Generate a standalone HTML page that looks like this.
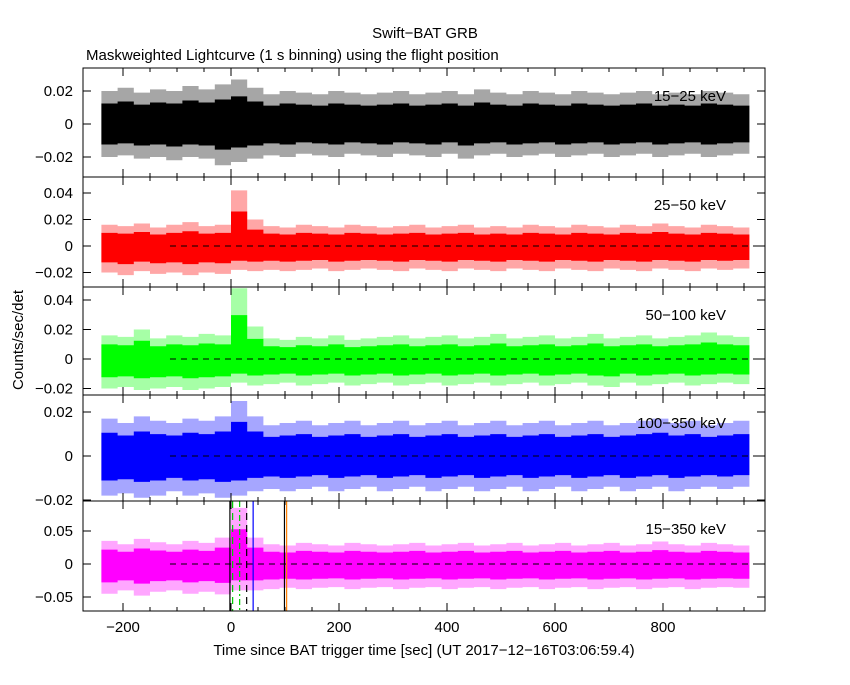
<!DOCTYPE html>
<html><head><meta charset="utf-8"><style>
body{margin:0;background:#fff;}
svg text{font-family:"Liberation Sans",sans-serif;font-size:15px;fill:#000;}
</style></head><body>
<svg id="c" width="850" height="680" xmlns="http://www.w3.org/2000/svg">
<text x="425" y="38" text-anchor="middle">Swift−BAT GRB</text>
<text x="86" y="60">Maskweighted Lightcurve (1 s binning) using the flight position</text>
<text x="424" y="655" text-anchor="middle">Time since BAT trigger time [sec] (UT 2017−12−16T03:06:59.4)</text>
<text transform="translate(23,340) rotate(-90)" text-anchor="middle">Counts/sec/det</text>
<g id="g"></g>
</svg>
<script>
const xTicks=[-200,0,200,400,600,800];
const binStart=-240, binWidth=30;
const hi1=[0.020,0.022,0.019,0.021,0.020,0.023,0.021,0.024,0.027,0.022,0.018,0.020,0.019,0.018,0.020,0.019,0.018,0.019,0.020,0.018,0.019,0.020,0.018,0.021,0.019,0.018,0.020,0.019,0.018,0.020,0.019,0.018,0.019,0.020,0.018,0.019,0.018,0.020,0.019,0.018];
const lo1=[-0.020,-0.019,-0.021,-0.020,-0.022,-0.020,-0.021,-0.025,-0.023,-0.021,-0.019,-0.020,-0.018,-0.019,-0.020,-0.018,-0.019,-0.020,-0.018,-0.019,-0.020,-0.018,-0.021,-0.019,-0.018,-0.020,-0.019,-0.018,-0.020,-0.019,-0.018,-0.020,-0.019,-0.018,-0.020,-0.019,-0.018,-0.020,-0.019,-0.018];
const hi2=[0.016,0.015,0.017,0.014,0.016,0.018,0.015,0.016,0.042,0.020,0.015,0.014,0.016,0.015,0.014,0.016,0.015,0.014,0.015,0.016,0.014,0.015,0.016,0.014,0.015,0.014,0.016,0.015,0.014,0.016,0.015,0.014,0.016,0.015,0.017,0.015,0.014,0.016,0.015,0.014];
const lo2=[-0.020,-0.022,-0.019,-0.021,-0.020,-0.022,-0.020,-0.021,-0.018,-0.019,-0.018,-0.019,-0.018,-0.017,-0.019,-0.018,-0.017,-0.018,-0.019,-0.017,-0.018,-0.019,-0.017,-0.018,-0.019,-0.017,-0.018,-0.019,-0.017,-0.018,-0.019,-0.017,-0.018,-0.019,-0.017,-0.018,-0.019,-0.017,-0.018,-0.017];
const hi3=[0.016,0.015,0.020,0.014,0.016,0.015,0.017,0.016,0.048,0.022,0.014,0.013,0.015,0.014,0.016,0.013,0.014,0.015,0.016,0.014,0.015,0.016,0.014,0.015,0.017,0.014,0.015,0.016,0.014,0.015,0.017,0.014,0.015,0.016,0.014,0.015,0.016,0.018,0.016,0.015];
const lo3=[-0.020,-0.019,-0.021,-0.020,-0.019,-0.021,-0.020,-0.019,-0.016,-0.018,-0.017,-0.016,-0.018,-0.017,-0.016,-0.018,-0.017,-0.016,-0.018,-0.017,-0.016,-0.018,-0.017,-0.016,-0.018,-0.017,-0.016,-0.018,-0.017,-0.016,-0.018,-0.019,-0.016,-0.018,-0.017,-0.016,-0.018,-0.017,-0.016,-0.017];
const hi4=[0.017,0.015,0.018,0.016,0.015,0.017,0.016,0.018,0.025,0.018,0.014,0.015,0.016,0.014,0.015,0.016,0.014,0.015,0.016,0.014,0.015,0.016,0.014,0.015,0.016,0.014,0.015,0.016,0.014,0.015,0.016,0.014,0.015,0.016,0.017,0.015,0.016,0.014,0.015,0.016];
const lo4=[-0.018,-0.017,-0.019,-0.018,-0.016,-0.018,-0.017,-0.019,-0.018,-0.016,-0.015,-0.016,-0.015,-0.014,-0.016,-0.015,-0.014,-0.016,-0.015,-0.014,-0.016,-0.015,-0.014,-0.016,-0.015,-0.014,-0.016,-0.015,-0.014,-0.016,-0.015,-0.014,-0.016,-0.015,-0.014,-0.016,-0.015,-0.014,-0.015,-0.014];
const hi5=[0.035,0.030,0.038,0.033,0.030,0.035,0.032,0.040,0.085,0.040,0.030,0.028,0.032,0.030,0.028,0.032,0.030,0.028,0.030,0.032,0.028,0.030,0.032,0.028,0.030,0.032,0.028,0.030,0.032,0.028,0.030,0.032,0.028,0.030,0.034,0.030,0.028,0.032,0.030,0.028];
const lo5=[-0.045,-0.040,-0.048,-0.042,-0.040,-0.045,-0.042,-0.046,-0.040,-0.040,-0.038,-0.036,-0.038,-0.036,-0.035,-0.038,-0.036,-0.035,-0.038,-0.036,-0.035,-0.038,-0.036,-0.035,-0.038,-0.036,-0.035,-0.038,-0.036,-0.035,-0.038,-0.036,-0.035,-0.038,-0.036,-0.035,-0.038,-0.036,-0.035,-0.036];
const yTicks1=[-0.02,0,0.02], yTicks2=[-0.02,0,0.02,0.04], yTicks3=[-0.02,0,0.02,0.04], yTicks4=[-0.02,0,0.02], yTicks5=[-0.05,0,0.05];
const bandLabels=["15−25 keV","25−50 keV","50−100 keV","100−350 keV","15−350 keV"];
const markerTimes=[-2,3,16,29,41,99,103];
const markerStyles=["solid-black","dash-green","dashdot-green","dash-black","solid-blue","solid-black","solid-orange"];

const X0=83,X1=765;
const xs=t=>231+(t)*0.54;
const panels=[
 {top:68,bot:177,y0:124,k:1650,hi:hi1,lo:lo1,ticks:yTicks1,col:"#000",zero:false},
 {top:177,bot:287,y0:246,k:1325,hi:hi2,lo:lo2,ticks:yTicks2,col:"#ff0000",zero:true},
 {top:287,bot:395,y0:359,k:1475,hi:hi3,lo:lo3,ticks:yTicks3,col:"#00ff00",zero:true},
 {top:395,bot:501,y0:456,k:2200,hi:hi4,lo:lo4,ticks:yTicks4,col:"#0000ff",zero:true},
 {top:501,bot:611,y0:564,k:660,hi:hi5,lo:lo5,ticks:yTicks5,col:"#ff00ff",zero:true}];
const NS="http://www.w3.org/2000/svg";
const g=document.getElementById('g');
function mk(tag,attrs){const e=document.createElementNS(NS,tag);for(const a in attrs)e.setAttribute(a,attrs[a]);g.appendChild(e);return e;}
function bandPts(p,ys,f){
 let pts=[];
 p.hi.forEach((v,i)=>{const t0=binStart+i*binWidth;pts.push(xs(t0)+','+ys(v*f));pts.push(xs(t0+binWidth)+','+ys(v*f));});
 for(let i=p.lo.length-1;i>=0;i--){const t0=binStart+i*binWidth;pts.push(xs(t0+binWidth)+','+ys(p.lo[i]*f));pts.push(xs(t0)+','+ys(p.lo[i]*f));}
 return pts.join(' ');
}
panels.forEach((p,pi)=>{
 const ys=v=>p.y0-v*p.k;
 const cp=mk('clipPath',{id:'cp'+pi});
 const r=document.createElementNS(NS,'rect');r.setAttribute('x',X0);r.setAttribute('y',p.top);r.setAttribute('width',X1-X0);r.setAttribute('height',p.bot-p.top);cp.appendChild(r);
 const outer=mk('polygon',{points:bandPts(p,ys,1),fill:p.col,'fill-opacity':0.35,'clip-path':'url(#cp'+pi+')'});
 
 
 const poly=mk('polygon',{points:bandPts(p,ys,0.62),fill:p.col,'clip-path':'url(#cp'+pi+')'});
 
 
 if(p.zero){const z=mk('line',{x1:xs(-113),x2:X1,y1:ys(0),y2:ys(0),stroke:'#000','stroke-dasharray':'6,5'});
  }
 if(pi==4){markerTimes.forEach((t,i)=>{const s=markerStyles[i];const col=s.includes('green')?'#00cc00':s.includes('blue')?'#0000ff':s.includes('orange')?'#ff8000':'#000';
  const a={x1:xs(t),x2:xs(t),y1:p.top,y2:p.bot,stroke:col,'stroke-width':1.2};
  if(s.startsWith('dashdot'))a['stroke-dasharray']='6,3,2,3';else if(s.startsWith('dash'))a['stroke-dasharray']='7,5';
  const l=mk('line',a);});}
 const fr=mk('rect',{x:X0,y:p.top,width:X1-X0,height:p.bot-p.top,fill:'none',stroke:'#000'});
 
 p.ticks.forEach(v=>{const y=ys(v);mk('line',{x1:X0,x2:X0+8,y1:y,y2:y,stroke:'#000'});mk('line',{x1:X1-8,x2:X1,y1:y,y2:y,stroke:'#000'});
  const t=mk('text',{x:73,y:y+5,'text-anchor':'end'});t.textContent=(v<0?'−':'')+Math.abs(v);
  });
 for(let t=-200;t<=950;t+=50){const big=t%200==0;const x=xs(t);const L=big?8:4;
  mk('line',{x1:x,x2:x,y1:p.bot,y2:p.bot-L,stroke:'#000'});mk('line',{x1:x,x2:x,y1:p.top,y2:p.top+L,stroke:'#000'});}
 const lb=mk('text',{x:726,y:p.top+33,'text-anchor':'end',fill:pi==0?'#000':p.col});lb.textContent=bandLabels[pi];
 
});
xTicks.forEach(t=>{const e=mk('text',{x:xs(t),y:632,'text-anchor':'middle'});e.textContent=(t<0?'−':'')+Math.abs(t);
 });
</script>
</body></html>
